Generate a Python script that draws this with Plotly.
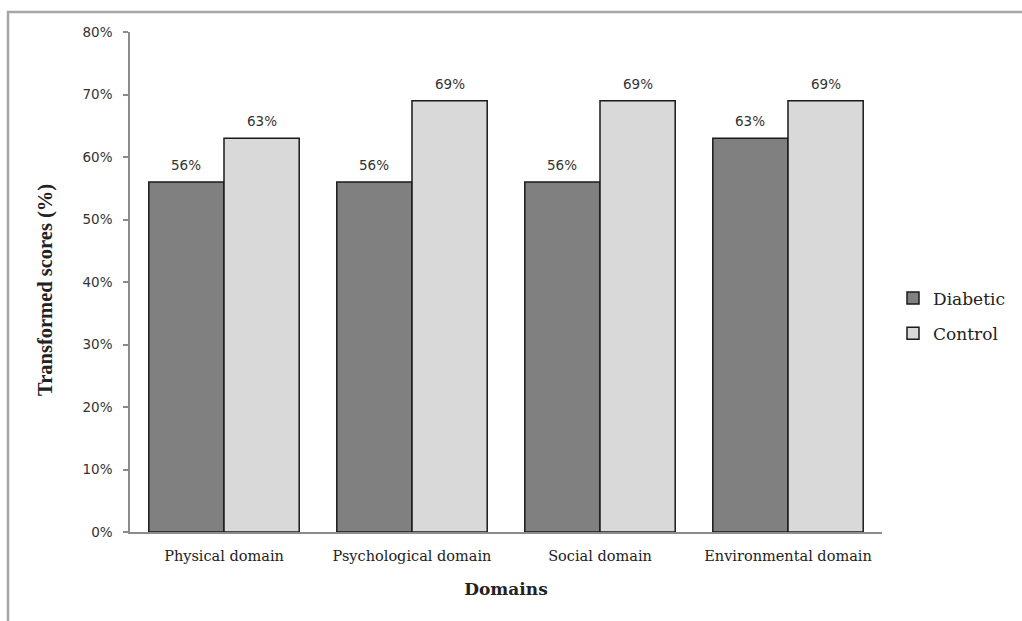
import plotly.graph_objects as go

# Quality-of-life domain scores by group
domains = ["Physical domain", "Psychological domain", "Social domain", "Environmental domain"]
diabetic = [0.56, 0.56, 0.56, 0.63]
control = [0.63, 0.69, 0.69, 0.69]
y_ticks = [0, 0.1, 0.2, 0.3, 0.4, 0.5, 0.6, 0.7, 0.8]

W, H = 1022, 621
L, R, T, B = 130, 140, 32, 89
pw, ph = W - L - R, H - T - B

serif = "DejaVu Serif"
sans = "DejaVu Sans"

fig = go.Figure()
fig.add_trace(go.Bar(
    name="Diabetic", x=domains, y=diabetic, legendgroup="d",
    marker=dict(color="#808080", line=dict(color="#1a1a1a", width=1.5)),
))
fig.add_trace(go.Bar(
    name="Control", x=domains, y=control, legendgroup="c",
    marker=dict(color="#d9d9d9", line=dict(color="#1a1a1a", width=1.5)),
))

# value labels above each bar
bar_px = pw / len(domains) * 0.8 / 2
annotations = []
for vals, shift in ((diabetic, -bar_px / 2), (control, bar_px / 2)):
    for d, v in zip(domains, vals):
        annotations.append(dict(
            x=d, y=v, xref="x", yref="y", text=f"{round(v * 100)}%",
            showarrow=False, xshift=shift, yshift=17,
            font=dict(family=sans, size=13.5, color="#333333"),
        ))

# y-axis title
annotations.append(dict(
    x=(45 - L) / pw, y=(H - B - 290) / ph, xref="paper", yref="paper",
    xanchor="center", yanchor="middle", textangle=-90, showarrow=False,
    text="<b>Transformed scores (%)</b>",
    font=dict(family="Liberation Serif", size=20.5, color="#222222"),
))

# outer frame (top and left edges)
fx = (8 - L) / pw
fy = (H - B - 12) / ph
fig.add_shape(type="path", xref="paper", yref="paper",
              path=f"M {fx} {-B / ph - 0.05} L {fx} {fy} L {(W - L) / pw + 0.05} {fy}",
              line=dict(color="#a6a6a6", width=2.5))

fig.update_layout(
    width=W, height=H,
    margin=dict(l=L, r=R, t=T, b=B, autoexpand=False),
    paper_bgcolor="white", plot_bgcolor="white",
    barmode="group", bargap=0.2, bargroupgap=0,
    annotations=annotations,
    showlegend=True,
    legend=dict(
        x=(893 - L) / pw, y=(H - B - 316) / ph, xanchor="left", yanchor="middle",
        font=dict(family=serif, size=17, color="#222222"),
        tracegroupgap=10, bgcolor="rgba(0,0,0,0)",
    ),
    xaxis=dict(
        showline=True, linecolor="#8c8c8c", linewidth=1.5,
        ticks="", showgrid=False, ticklabelstandoff=10,
        tickfont=dict(family=serif, size=14.5, color="#222222"),
        title=dict(text="<b>Domains</b>", standoff=20,
                   font=dict(family=serif, size=17, color="#222222")),
    ),
    yaxis=dict(
        range=[0, 0.8], tickvals=y_ticks, tickformat=".0%",
        showline=True, linecolor="#8c8c8c", linewidth=1.5,
        ticks="outside", ticklen=5, tickcolor="#8c8c8c", tickwidth=1.5,
        showgrid=False, zeroline=False, ticklabelstandoff=8,
        tickfont=dict(family=sans, size=13.5, color="#333333"),
    ),
)

fig.write_html("out.html")
